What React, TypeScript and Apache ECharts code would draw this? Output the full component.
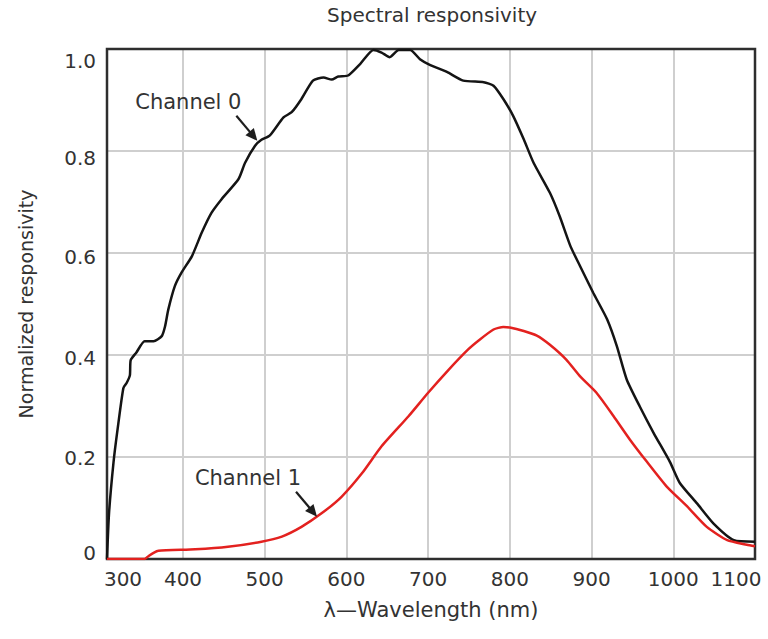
import React, { useEffect, useRef } from "react";
import * as echarts from "echarts";

const titleText = "Spectral responsivity";
const xAxisName = "λ—Wavelength (nm)";
const yAxisName = "Normalized responsivity";

const xMin = 307;
const xMax = 1100;
const xGridValues = [400, 500, 600, 700, 800, 900, 1000, 1100];
const xLabelValues = [307, 400, 500, 600, 700, 800, 900, 1000, 1100];
const xLabelTexts = ["300", "400", "500", "600", "700", "800", "900", "1000", "1100"];
const yTickLabels = ["0", "0.2", "0.4", "0.6", "0.8", "1.0"];

const ch0Wavelength = [
  307, 309.5, 315, 320, 327, 331, 335, 336, 343, 353, 364, 374, 378, 382, 390, 398,
  411, 423, 435, 447, 468, 476, 488, 496, 506, 523, 533, 545, 559, 572, 582, 590,
  602, 617, 633, 643, 653, 664, 678, 690, 702, 723, 743, 768, 780, 792, 804, 817,
  829, 849, 861, 874, 886, 902, 919, 931, 943, 959, 976, 996, 1008, 1029, 1049, 1074, 1100,
];
const ch0Response = [
  0, 0.09, 0.19, 0.255, 0.335, 0.345, 0.36, 0.39, 0.405, 0.427, 0.427, 0.437, 0.456, 0.489, 0.535, 0.561,
  0.594, 0.64, 0.679, 0.705, 0.745, 0.777, 0.81, 0.822, 0.83, 0.866, 0.876, 0.902, 0.938, 0.944, 0.94, 0.946,
  0.948, 0.971, 0.998, 0.993, 0.984, 0.998, 0.998, 0.98, 0.969, 0.955, 0.938, 0.935, 0.928, 0.902, 0.869, 0.823,
  0.777, 0.718, 0.672, 0.614, 0.574, 0.522, 0.47, 0.417, 0.352, 0.299, 0.247, 0.19, 0.149, 0.109, 0.07, 0.037, 0.034,
];

const ch1Wavelength = [
  307, 353, 358, 364, 370, 415, 455, 496, 521, 545, 570, 594, 619, 643, 676, 700,
  725, 749, 763, 780, 792, 800, 817, 833, 849, 869, 886, 906, 927, 947, 968, 992,
  1017, 1041, 1066, 1090, 1100,
];
const ch1Response = [
  0, 0, 0.006, 0.012, 0.016, 0.019, 0.024, 0.034, 0.044, 0.063, 0.09, 0.122, 0.168, 0.221, 0.28, 0.326,
  0.371, 0.411, 0.43, 0.45, 0.455, 0.454, 0.447, 0.438, 0.42, 0.391, 0.358, 0.326, 0.28, 0.234, 0.19, 0.142,
  0.103, 0.063, 0.037, 0.028, 0.025,
];

const annotationTexts = ["Channel 0", "Channel 1"];
const annotationTipX = [491, 564];
const annotationTipY = [0.82, 0.083];

// label nudges (px, positive = down) to mimic the hand-placed labels
const yLabelShift = [-6, 1, 3, 4, 7, 12];

const FONT = "DejaVu Sans";
const TEXT = "#333333";

export default function App() {
  const ref = useRef<HTMLDivElement>(null);

  useEffect(() => {
    const chart = echarts.init(ref.current!, null, { renderer: "svg" });

    const yRich: Record<string, any> = {};
    yLabelShift.forEach((s, i) => {
      yRich["y" + i] = {
        fontFamily: FONT,
        fontSize: 20,
        color: TEXT,
        padding: s >= 0 ? [2 * s, 0, 0, 0] : [0, 0, -2 * s, 0],
      };
    });

    chart.setOption({
      animation: false,
      title: {
        text: titleText,
        left: 322,
        top: 0,
        textStyle: { fontFamily: FONT, fontSize: 20, fontWeight: "normal", color: TEXT },
      },
      grid: { left: 107, right: 13, top: 49, bottom: 80, show: false },
      xAxis: {
        type: "value",
        min: xMin,
        max: xMax,
        splitNumber: 8,
        name: xAxisName,
        nameLocation: "middle",
        nameGap: 40,
        nameTextStyle: { fontFamily: FONT, fontSize: 21, color: TEXT },
        axisLine: { show: false },
        axisTick: { show: false, customValues: xGridValues },
        splitLine: { show: true, lineStyle: { color: "#cfcfcf", width: 2 } },
        axisLabel: {
          customValues: xLabelValues,
          margin: 10,
          fontFamily: FONT,
          fontSize: 20,
          color: TEXT,
          formatter: (v: number) => {
            const i = xLabelValues.indexOf(v);
            const t = i >= 0 ? xLabelTexts[i] : String(v);
            if (i === 0) return "{first|" + t + "}";
            if (i === xLabelValues.length - 1) return "{last|" + t + "}";
            return t;
          },
          rich: {
            first: { fontFamily: FONT, fontSize: 20, color: TEXT, padding: [0, 0, 0, 32] },
            last: { fontFamily: FONT, fontSize: 20, color: TEXT, padding: [0, 38, 0, 0] },
          },
        },
      },
      yAxis: {
        type: "value",
        min: 0,
        max: 1,
        interval: 0.2,
        name: yAxisName,
        nameLocation: "middle",
        nameGap: 72,
        nameTextStyle: { fontFamily: FONT, fontSize: 19, color: TEXT },
        axisLine: { show: false },
        axisTick: { show: false },
        splitLine: { show: true, lineStyle: { color: "#cfcfcf", width: 2 } },
        axisLabel: {
          margin: 11,
          fontFamily: FONT,
          fontSize: 20,
          color: TEXT,
          formatter: (v: number) => {
            const i = Math.round(v / 0.2);
            return "{y" + i + "|" + yTickLabels[i] + "}";
          },
          rich: yRich,
        },
      },
      series: [
        {
          type: "line",
          name: "Channel 0",
          data: ch0Wavelength.map((w, i) => [w, ch0Response[i]]),
          showSymbol: false,
          smooth: 0.2,
          lineStyle: { color: "#141414", width: 2.5 },
          itemStyle: { color: "#141414" },
          z: 3,
        },
        {
          type: "line",
          name: "Channel 1",
          data: ch1Wavelength.map((w, i) => [w, ch1Response[i]]),
          showSymbol: false,
          smooth: 0.2,
          lineStyle: { color: "#e3211f", width: 2.5 },
          itemStyle: { color: "#e3211f" },
          z: 4,
        },
      ],
    });

    const p0 = chart.convertToPixel({ gridIndex: 0 }, [xMin, 1]) as number[];
    const p1 = chart.convertToPixel({ gridIndex: 0 }, [xMax, 0]) as number[];

    const graphics: any[] = [
      {
        type: "rect",
        silent: true,
        z: 1,
        shape: { x: p0[0], y: p0[1], width: p1[0] - p0[0], height: p1[1] - p0[1] },
        style: { fill: "none", stroke: "#2e2e2e", lineWidth: 2.5 },
      },
    ];

    annotationTexts.forEach((t, i) => {
      const tip = chart.convertToPixel({ gridIndex: 0 }, [annotationTipX[i], annotationTipY[i]]) as number[];
      const tail = [tip[0] - 21, tip[1] - 25];
      const dx = tip[0] - tail[0];
      const dy = tip[1] - tail[1];
      const len = Math.sqrt(dx * dx + dy * dy);
      const ux = dx / len;
      const uy = dy / len;
      const hl = 12;
      const hw = 5.5;
      const bx = tip[0] - ux * hl;
      const by = tip[1] - uy * hl;
      graphics.push({
        type: "line",
        silent: true,
        z: 10,
        shape: { x1: tail[0], y1: tail[1], x2: bx + ux * 2, y2: by + uy * 2 },
        style: { stroke: "#1e1e1e", lineWidth: 2.2 },
      });
      graphics.push({
        type: "polygon",
        silent: true,
        z: 10,
        shape: {
          points: [
            [tip[0], tip[1]],
            [bx - uy * hw, by + ux * hw],
            [bx + uy * hw, by - ux * hw],
          ],
        },
        style: { fill: "#1e1e1e" },
      });
      graphics.push({
        type: "text",
        silent: true,
        z: 10,
        x: tip[0] - 69,
        y: tip[1] - 39,
        style: {
          text: t,
          fontFamily: FONT,
          fontSize: 21,
          fill: TEXT,
          align: "center",
          verticalAlign: "middle",
        },
      });
    });

    chart.setOption({ graphic: graphics });

    return () => chart.dispose();
  }, []);

  return (
    <div
      ref={ref}
      style={{ position: "absolute", left: 0, top: 0, width: 768, height: 639, background: "#fff" }}
    />
  );
}
